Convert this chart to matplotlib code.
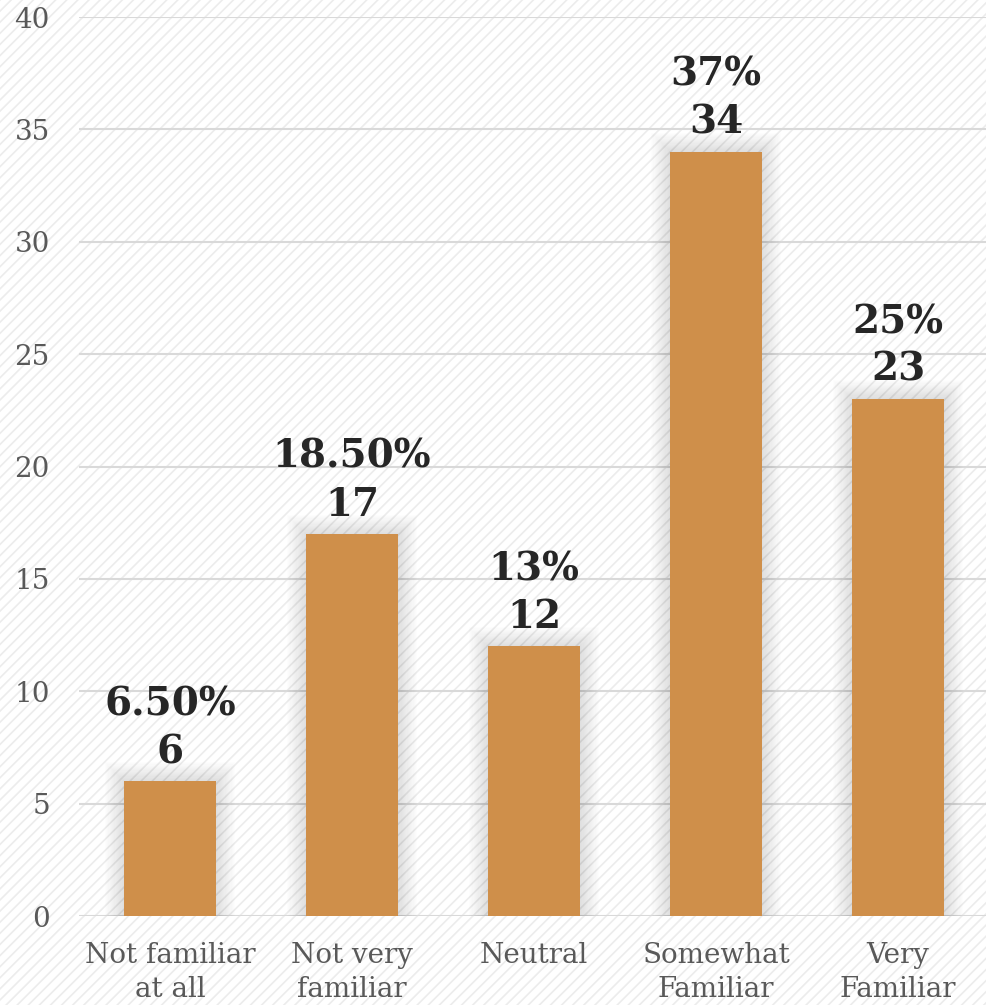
import numpy as np
import matplotlib
matplotlib.use("Agg")
import matplotlib.pyplot as plt
from matplotlib.patches import Rectangle

# Data
categories = ["Not familiar\nat all", "Not very\nfamiliar", "Neutral", "Somewhat\nFamiliar", "Very\nFamiliar"]
counts = [6, 17, 12, 34, 23]
percents = ["6.50%", "18.50%", "13%", "37%", "25%"]
yticks = [0, 5, 10, 15, 20, 25, 30, 35, 40]

plt.rcParams["font.family"] = ["DejaVu Serif"]
plt.rcParams["hatch.linewidth"] = 1.2

fig = plt.figure(figsize=(9.86, 10.05), dpi=100)
# faint diagonal-striped background
bg = Rectangle((0, 0), 1, 1, transform=fig.transFigure, facecolor="white",
               edgecolor="#ececec", lw=0, hatch="///", zorder=-5)
fig.add_artist(bg)

ax = fig.add_axes([79 / 986, 89 / 1005, 907 / 986, 899 / 1005])
ax.set_facecolor("none")

x = np.arange(len(categories))
w = 0.505

# soft shadow around bars
dx = 1.2 / 907 * 4.983
dy = 1.2 * 40 / 899
for k in range(16, 0, -1):
    ax.bar(x, np.array(counts) + dy * k, width=w + 2 * dx * k, color="black",
           alpha=0.007, linewidth=0, zorder=2)

ax.bar(x, counts, width=w, color="#CF8F4A", linewidth=0, zorder=3)

for xi, c, p in zip(x, counts, percents):
    ax.text(xi, c + 0.45, f"{p}\n{c}", ha="center", va="bottom",
            fontsize=28, fontweight="bold", color="#262626",
            linespacing=1.33, zorder=4)

ax.set_xlim(-0.5, 4.483)
ax.set_ylim(0, 40)
ax.set_yticks(yticks)
ax.set_xticks(x)
ax.set_xticklabels(categories, fontsize=20, color="#595959", linespacing=1.3)
ax.tick_params(axis="y", length=0, pad=21, labelsize=20, labelcolor="#595959")
ax.tick_params(axis="x", length=0, pad=19)
ax.grid(axis="y", color="#d9d9d9", linewidth=1.5, zorder=1)
ax.set_axisbelow(True)
for s in ax.spines.values():
    s.set_visible(False)

fig.savefig("out.png", dpi=100)
